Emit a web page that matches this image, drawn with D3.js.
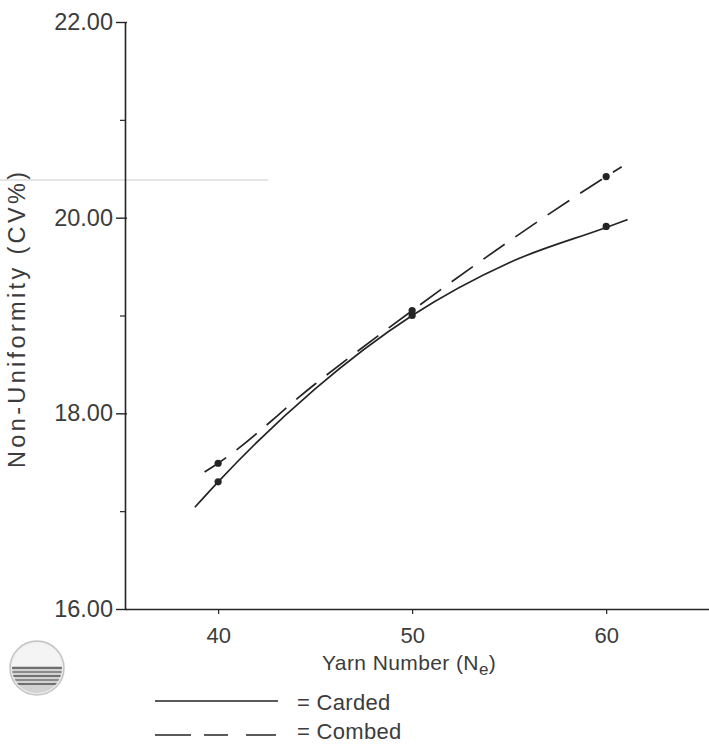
<!DOCTYPE html>
<html>
<head>
<meta charset="utf-8">
<script src="https://cdn.jsdelivr.net/npm/d3@7"></script>
<style>
  html, body { margin: 0; padding: 0; background: #fff; }
  svg { display: block; }
  text { font-family: "Liberation Sans", Arial, sans-serif; fill: #3c3c3c; }
</style>
</head>
<body>
<div id="chart"></div>
<script>
// ---- data ----
const yarnNumbers = [40, 50, 60];
const cardedValues = [17.30, 19.00, 19.91];
const combedValues = [17.49, 19.05, 20.42];

// fitted curves as drawn in the original (sampled by eye)
const cardedCurveX = [38.8, 40, 45, 50, 55, 60, 61.1];
const cardedCurveY = [17.04, 17.30, 18.25, 19.00, 19.54, 19.90, 19.98];
const combedCurveX = [39.3, 40, 45, 50, 55, 60, 60.8];
const combedCurveY = [17.40, 17.49, 18.30, 19.05, 19.76, 20.42, 20.52];

const xTicks = [40, 50, 60];
const yMajorTicks = [16, 18, 20, 22];
const yMinorTicks = [17, 19, 21];

const legendLabels = ["= Carded", "= Combed"];

// ---- drawing ----
const W = 709, H = 744;
const svg = d3.select("#chart").append("svg").attr("width", W).attr("height", H);

const x = d3.scaleLinear().domain([35.2, 65.3]).range([125, 709]);
const y = d3.scaleLinear().domain([16, 22]).range([609, 22]);

const ink = "#242424";
const txt = "#3c3c3c";
const FONT = "Liberation Sans, Arial, sans-serif";

// faint scan line artifact
svg.append("line").attr("x1", 0).attr("x2", 268).attr("y1", 180).attr("y2", 180)
  .attr("stroke", "#cccccc").attr("stroke-width", 1.2);

// x axis
const gx = svg.append("g").attr("transform", `translate(0,${y(16)})`)
  .call(d3.axisBottom(x).tickValues(xTicks).tickSize(5).tickSizeOuter(0).tickPadding(13).tickFormat(d3.format("d")));
gx.select(".domain").attr("stroke", ink).attr("stroke-width", 1.6);
gx.selectAll(".tick line").attr("stroke", ink).attr("stroke-width", 1.2);
gx.selectAll(".tick text").attr("font-size", 22).attr("fill", txt).attr("font-family", FONT);

// y axis
const gy = svg.append("g").attr("transform", `translate(${x(35.2)},0)`)
  .call(d3.axisLeft(y).tickValues(yMajorTicks).tickSize(9).tickSizeOuter(0).tickPadding(3).tickFormat(d3.format(".2f")));
gy.select(".domain").attr("stroke", ink).attr("stroke-width", 1.6);
gy.selectAll(".tick line").attr("stroke", ink).attr("stroke-width", 1.4).attr("x2", -9).attr("x1", 2);
gy.selectAll(".tick text").attr("font-size", 23.5).attr("fill", txt).attr("font-family", FONT);

const gyMinor = svg.append("g").attr("transform", `translate(${x(35.2)},0)`)
  .call(d3.axisLeft(y).tickValues(yMinorTicks).tickSize(5).tickSizeOuter(0).tickFormat(""));
gyMinor.select(".domain").remove();
gyMinor.selectAll(".tick line").attr("stroke", ink).attr("stroke-width", 1.2);

// axis titles
const xt = svg.append("text").attr("x", 322).attr("y", 670)
  .attr("font-size", 21).attr("letter-spacing", 0.4);
xt.append("tspan").text("Yarn Number (N");
xt.append("tspan").attr("dy", 5).attr("font-size", 17).text("e");
xt.append("tspan").attr("dy", -5).text(")");

svg.append("text").attr("transform", "translate(25,468) rotate(-90)")
  .attr("font-size", 23.5).attr("textLength", 296).attr("lengthAdjust", "spacing")
  .text("Non-Uniformity (CV%)");

// curves
const line = d3.line().x(d => x(d[0])).y(d => y(d[1])).curve(d3.curveMonotoneX);
const cardedCurve = cardedCurveX.map((v, i) => [v, cardedCurveY[i]]);
const combedCurve = combedCurveX.map((v, i) => [v, combedCurveY[i]]);

svg.append("path").datum(cardedCurve).attr("d", line)
  .attr("fill", "none").attr("stroke", ink).attr("stroke-width", 1.7);
svg.append("path").datum(combedCurve).attr("d", line)
  .attr("fill", "none").attr("stroke", ink).attr("stroke-width", 1.7)
  .attr("stroke-dasharray", "26,13");

// data markers
svg.append("g").selectAll("circle").data(yarnNumbers).join("circle")
  .attr("cx", d => x(d)).attr("cy", (d, i) => y(cardedValues[i])).attr("r", 3.6)
  .attr("fill", ink);
svg.append("g").selectAll("circle").data(yarnNumbers).join("circle")
  .attr("cx", d => x(d)).attr("cy", (d, i) => y(combedValues[i])).attr("r", 3.6)
  .attr("fill", ink);

// legend
const legend = svg.append("g");
legend.append("line").attr("x1", 155).attr("x2", 278).attr("y1", 701).attr("y2", 701)
  .attr("stroke", ink).attr("stroke-width", 1.7);
legend.append("line").attr("x1", 155).attr("x2", 278).attr("y1", 735).attr("y2", 735)
  .attr("stroke", ink).attr("stroke-width", 1.7).attr("stroke-dasharray", "36,13,24,18,30");
legend.append("text").attr("x", 297).attr("y", 710).attr("font-size", 22).attr("letter-spacing", 0.3).text(legendLabels[0]);
legend.append("text").attr("x", 297).attr("y", 739).attr("font-size", 22).attr("letter-spacing", 0.3).text(legendLabels[1]);

// round sticker in the corner of the scan
const st = svg.append("g").attr("transform", "translate(37,668)");
st.append("circle").attr("r", 27).attr("fill", "#ececec").attr("stroke", "#c4c4c4").attr("stroke-width", 1.5);
st.append("clipPath").attr("id", "stclip").append("circle").attr("r", 25);
const stripes = st.append("g").attr("clip-path", "url(#stclip)");
stripes.append("rect").attr("x", -27).attr("y", -2).attr("width", 54).attr("height", 30).attr("fill", "#d2d2d2");
[-1, 3, 7, 11, 15].forEach((yy, i) => {
  stripes.append("rect").attr("x", -27).attr("y", yy).attr("width", 54).attr("height", 2)
    .attr("fill", i % 2 ? "#8c8c8c" : "#707070");
});
stripes.append("rect").attr("x", -27).attr("y", -25).attr("width", 54).attr("height", 23).attr("fill", "#f4f4f4");
</script>
</body>
</html>
